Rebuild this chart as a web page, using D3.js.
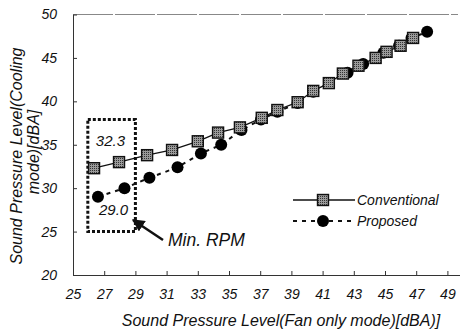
<!DOCTYPE html>
<html lang="en">
<head>
  <meta charset="UTF-8">
  <script src="https://cdn.jsdelivr.net/npm/d3@7"></script>
  <style>
    * { margin: 0; padding: 0; }
    body { background: #fff; }
    text { font-family: "Liberation Sans", Arial, sans-serif; font-style: italic; fill: #111; }
  </style>
</head>
<body>
<div id="box"></div>
<script>
  var width = 460
  var height = 331

  // data
  var convX = [26.35, 27.95, 29.75, 31.35, 33.0, 34.3, 35.7, 37.1, 38.1, 39.4, 40.4, 41.4, 42.3, 43.3, 44.4, 45.1, 46.0, 46.8]
  var convY = [32.3, 33.0, 33.8, 34.4, 35.4, 36.4, 37.0, 38.1, 39.0, 39.9, 41.2, 42.1, 43.2, 44.1, 45.0, 45.7, 46.4, 47.3]
  var propX = [26.6, 28.3, 29.9, 31.7, 33.2, 34.5, 35.8, 37.05, 38.1, 39.4, 40.4, 42.6, 43.6, 44.9, 45.9, 46.7, 47.7]
  var propY = [29.0, 30.0, 31.2, 32.4, 34.0, 35.0, 36.7, 37.9, 38.8, 39.8, 41.1, 43.3, 44.3, 45.6, 46.4, 47.3, 48.0]
  var xTicks = [25, 27, 29, 31, 33, 35, 37, 39, 41, 43, 45, 47, 49]
  var yTicks = [20, 25, 30, 35, 40, 45, 50]

  var svg = d3.select('#box').append('svg')
    .attr('width', width).attr('height', height)

  // pattern for the grey squares
  var defs = svg.append('defs')
  var pat = defs.append('pattern').attr('id', 'hatch')
    .attr('width', 2).attr('height', 2).attr('patternUnits', 'userSpaceOnUse')
  pat.append('rect').attr('width', 2).attr('height', 2).attr('fill', '#9a9a9a')
  pat.append('rect').attr('width', 1).attr('height', 1).attr('fill', '#333')

  var x = d3.scaleLinear().domain([25, 50]).range([73, 463])
  var y = d3.scaleLinear().domain([20, 50]).range([275, 14.5])

  // frame: top line
  svg.append('line')
    .attr('x1', x(25)).attr('x2', 458).attr('y1', y(50)).attr('y2', y(50))
    .attr('stroke', '#888').attr('stroke-width', 1).attr('stroke-dasharray', '40,2')

  var xAxis = d3.axisBottom(x).tickValues(xTicks).tickSizeInner(-4).tickSizeOuter(0).tickPadding(14)
  var gx = svg.append('g').attr('transform', 'translate(0,' + y(20) + ')').call(xAxis)
  gx.select('.domain').attr('stroke', '#333')
  gx.selectAll('.tick line').attr('stroke', '#333')
  gx.selectAll('text').style('font-size', '14px').attr('fill', '#111')

  var yAxis = d3.axisLeft(y).tickValues(yTicks).tickSizeInner(-4).tickSizeOuter(0).tickPadding(16)
  var gy = svg.append('g').attr('transform', 'translate(' + x(25) + ',0)').call(yAxis)
  gy.select('.domain').attr('stroke', '#333')
  gy.selectAll('.tick line').attr('stroke', '#333')
  gy.selectAll('text').style('font-size', '14px').attr('fill', '#111')

  // axis titles
  svg.append('text').attr('x', 281).attr('y', 326).attr('text-anchor', 'middle')
    .style('font-size', '16px').text('Sound Pressure Level(Fan only mode)[dBA)]')
  var yt = svg.append('text').attr('transform', 'translate(22,156) rotate(-90)')
    .attr('text-anchor', 'middle').style('font-size', '16px')
  yt.append('tspan').attr('x', 0).attr('dy', 0).text('Sound Pressure Level(Cooling')
  yt.append('tspan').attr('x', 4).attr('dy', 17).text('mode)[dBA]')

  // dotted box around min rpm
  svg.append('rect')
    .attr('x', x(25.95)).attr('y', y(37.9))
    .attr('width', x(29) - x(25.95)).attr('height', y(25) - y(37.9))
    .attr('fill', 'none').attr('stroke', '#111').attr('stroke-width', 3)
    .attr('stroke-dasharray', '3,2')

  svg.append('text').attr('x', x(27.4)).attr('y', y(34.8)).attr('text-anchor', 'middle')
    .style('font-size', '15px').text('32.3')
  svg.append('text').attr('x', x(27.6)).attr('y', y(26.9)).attr('text-anchor', 'middle')
    .style('font-size', '15px').text('29.0')

  // arrow
  defs.append('marker').attr('id', 'arr').attr('viewBox', '0 0 10 10')
    .attr('refX', 9).attr('refY', 5).attr('markerWidth', 5).attr('markerHeight', 5)
    .attr('orient', 'auto')
    .append('path').attr('d', 'M0,0L10,5L0,10z').attr('fill', '#111')
  svg.append('line').attr('x1', 163).attr('y1', 240).attr('x2', 133).attr('y2', 220)
    .attr('stroke', '#111').attr('stroke-width', 2.5).attr('marker-end', 'url(#arr)')
  svg.append('text').attr('x', 168).attr('y', 246).style('font-size', '17.5px').text('Min. RPM')

  var line = d3.line().x(function (d) { return x(d[0]) }).y(function (d) { return y(d[1]) })
  var conv = convX.map(function (v, i) { return [v, convY[i]] })
  var prop = propX.map(function (v, i) { return [v, propY[i]] })

  svg.append('path').datum(prop).attr('d', line).attr('fill', 'none')
    .attr('stroke', '#111').attr('stroke-width', 2).attr('stroke-dasharray', '4,5')
  svg.append('path').datum(conv).attr('d', line).attr('fill', 'none')
    .attr('stroke', '#111').attr('stroke-width', 1.3)

  svg.selectAll('circle.p').data(prop).enter().append('circle').attr('class', 'p')
    .attr('cx', function (d) { return x(d[0]) }).attr('cy', function (d) { return y(d[1]) })
    .attr('r', 6).attr('fill', '#000')

  var s = 11
  svg.selectAll('rect.c').data(conv).enter().append('rect').attr('class', 'c')
    .attr('x', function (d) { return x(d[0]) - s / 2 }).attr('y', function (d) { return y(d[1]) - s / 2 })
    .attr('width', s).attr('height', s)
    .attr('fill', 'url(#hatch)').attr('stroke', '#111').attr('stroke-width', 1.4)

  // legend
  var lg = svg.append('g')
  lg.append('line').attr('x1', 293).attr('x2', 355).attr('y1', 200).attr('y2', 200)
    .attr('stroke', '#111').attr('stroke-width', 1.3)
  lg.append('rect').attr('x', 323 - s / 2).attr('y', 200 - s / 2).attr('width', s).attr('height', s)
    .attr('fill', 'url(#hatch)').attr('stroke', '#111').attr('stroke-width', 1.4)
  lg.append('text').attr('x', 357).attr('y', 205).style('font-size', '14px').text('Conventional')
  lg.append('line').attr('x1', 293).attr('x2', 355).attr('y1', 221).attr('y2', 221)
    .attr('stroke', '#111').attr('stroke-width', 2).attr('stroke-dasharray', '4,5')
  lg.append('circle').attr('cx', 323).attr('cy', 221).attr('r', 6).attr('fill', '#000')
  lg.append('text').attr('x', 357).attr('y', 226).style('font-size', '14px').text('Proposed')
</script>
</body>
</html>
